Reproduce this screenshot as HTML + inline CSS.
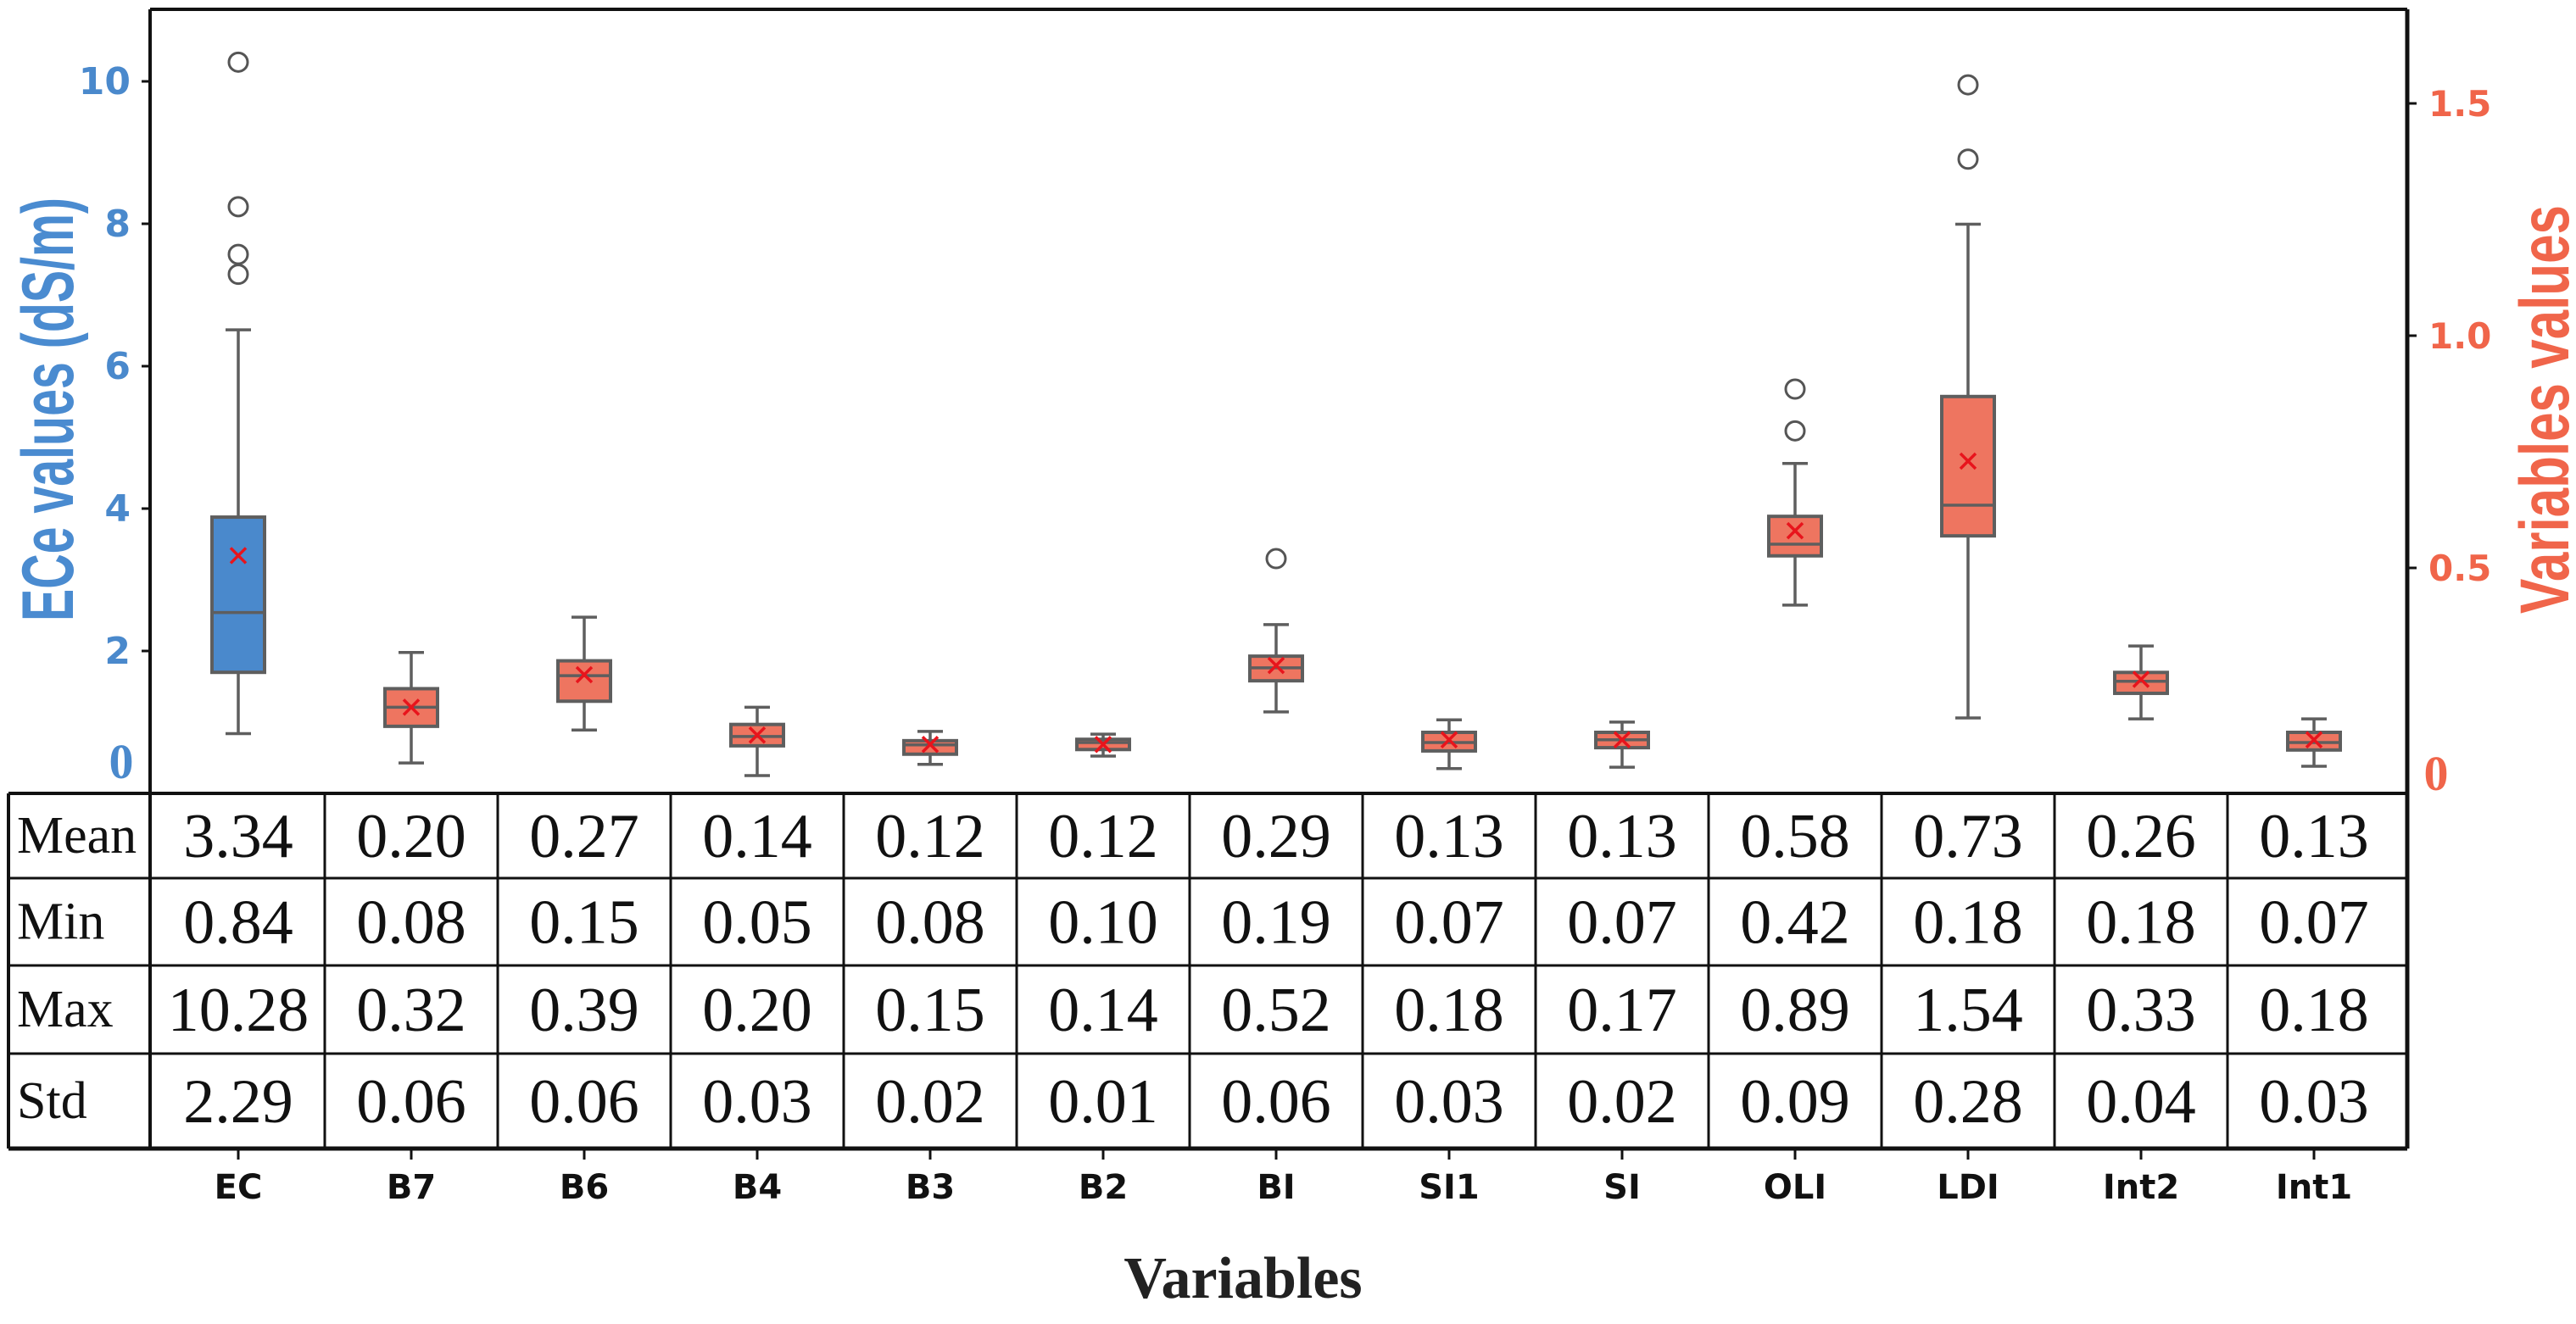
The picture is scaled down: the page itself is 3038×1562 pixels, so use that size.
<!DOCTYPE html>
<html><head><meta charset="utf-8">
<style>
html,body{margin:0;padding:0;background:#fff;}
svg{display:block;}
</style></head>
<body>
<svg id="chart" width="3038" height="1562" viewBox="0 0 3038 1562" xmlns="http://www.w3.org/2000/svg">
</svg>
<script>
const categories = ["EC","B7","B6","B4","B3","B2","BI","SI1","SI","OLI","LDI","Int2","Int1"];
const whiskerLow = [0.84,0.08,0.151,0.053,0.077,0.095,0.19,0.068,0.071,0.42,0.177,0.175,0.073];
const q1 = [1.70,0.159,0.213,0.117,0.099,0.109,0.257,0.106,0.113,0.526,0.569,0.23,0.108];
const medians = [2.54,0.20,0.268,0.137,0.119,0.124,0.285,0.124,0.13,0.551,0.635,0.256,0.124];
const q3 = [3.88,0.24,0.30,0.163,0.128,0.131,0.31,0.146,0.146,0.611,0.869,0.275,0.146];
const whiskerHigh = [6.51,0.318,0.394,0.20,0.148,0.142,0.378,0.173,0.168,0.725,1.24,0.332,0.175];
const means = [3.34,0.20,0.27,0.14,0.12,0.12,0.29,0.13,0.13,0.58,0.73,0.26,0.13];
const outliers = [[10.27,8.24,7.57,7.29],[],[],[],[],[],[0.52],[],[],[0.885,0.795],[1.54,1.38],[],[]];
const rowLabels = ["Mean","Min","Max","Std"];
const tableMean = ["3.34","0.20","0.27","0.14","0.12","0.12","0.29","0.13","0.13","0.58","0.73","0.26","0.13"];
const tableMin = ["0.84","0.08","0.15","0.05","0.08","0.10","0.19","0.07","0.07","0.42","0.18","0.18","0.07"];
const tableMax = ["10.28","0.32","0.39","0.20","0.15","0.14","0.52","0.18","0.17","0.89","1.54","0.33","0.18"];
const tableStd = ["2.29","0.06","0.06","0.03","0.02","0.01","0.06","0.03","0.02","0.09","0.28","0.04","0.03"];
const leftTicks = [2,4,6,8,10];
const leftTickLabels = ["2","4","6","8","10"];
const rightTicks = [0.5,1.0,1.5];
const rightTickLabels = ["0.5","1.0","1.5"];

const NS = "http://www.w3.org/2000/svg";
const svg = document.getElementById('chart');
const X0 = 281, STEP = 204, LEFT = 177, RIGHT = 2839, TOP = 11, PLOTB = 936, TABB = 1355;
const xCat = i => X0 + i*STEP;
const yL = v => 936 - v*84;
const yR = v => 944 - v*548;
function mk(tag, attrs, parent){
  const e = document.createElementNS(NS, tag);
  for (const k in attrs) e.setAttribute(k, attrs[k]);
  (parent||svg).appendChild(e);
  return e;
}
const BLUE = "#4a89cc", CORAL = "#ee7560", EDGE = "#5e5e5e";

let e;
e = mk('line',{x1:LEFT,y1:TOP,x2:RIGHT,y2:TOP,stroke:'#111','stroke-width':4});
 
e = mk('line',{x1:LEFT,y1:TOP,x2:LEFT,y2:TABB,stroke:'#111','stroke-width':4});
 
e = mk('line',{x1:RIGHT,y1:TOP,x2:RIGHT,y2:TABB,stroke:'#111','stroke-width':5});
 

leftTicks.forEach((v,i)=>{
  const t = mk('line',{x1:LEFT-10,y1:yL(v),x2:LEFT,y2:yL(v),stroke:'#111','stroke-width':3});
   
  const l = mk('text',{x:154,y:yL(v)+15,'text-anchor':'end','font-family':'DejaVu Sans, sans-serif','font-weight':'bold','font-size':44,fill:BLUE});
  l.textContent = leftTickLabels[i];
   
});
e = mk('text',{x:143,y:918,'text-anchor':'middle','font-family':'Liberation Serif, serif','font-weight':'bold','font-size':58,fill:BLUE});
e.textContent = "0";
 

rightTicks.forEach((v,i)=>{
  const t = mk('line',{x1:RIGHT,y1:yR(v),x2:RIGHT+11,y2:yR(v),stroke:'#111','stroke-width':3});
   
  const l = mk('text',{x:2864,y:yR(v)+15,'text-anchor':'start','font-family':'DejaVu Sans, sans-serif','font-weight':'bold','font-size':42,fill:'#f0654a'});
  l.textContent = rightTickLabels[i];
   
});
e = mk('text',{x:2873,y:932,'text-anchor':'middle','font-family':'Liberation Serif, serif','font-weight':'bold','font-size':58,fill:'#f0654a'});
e.textContent = "0";
 

e = mk('text',{x:0,y:0,transform:'translate(86,483) rotate(-90)','text-anchor':'middle','font-family':'Liberation Sans, sans-serif','font-weight':'bold','font-size':86,fill:'#4a8bd0',textLength:500,lengthAdjust:'spacingAndGlyphs'});
e.textContent = "ECe values (dS/m)";
 
e = mk('text',{x:0,y:0,transform:'translate(3029,483) rotate(-90)','text-anchor':'middle','font-family':'Liberation Sans, sans-serif','font-weight':'bold','font-size':82,fill:'#f0654a',textLength:482,lengthAdjust:'spacingAndGlyphs'});
e.textContent = "Variables values";
 

const BW = 62, CAP = 30;
categories.forEach((c,i)=>{
  const y = i===0 ? yL : yR;
  const x = xCat(i);
  const g = mk('g',{});
  
  
  mk('line',{x1:x,y1:y(whiskerHigh[i]),x2:x,y2:y(q3[i]),stroke:EDGE,'stroke-width':3.5},g);
  mk('line',{x1:x,y1:y(q1[i]),x2:x,y2:y(whiskerLow[i]),stroke:EDGE,'stroke-width':3.5},g);
  mk('line',{x1:x-CAP/2,y1:y(whiskerHigh[i]),x2:x+CAP/2,y2:y(whiskerHigh[i]),stroke:EDGE,'stroke-width':3.5},g);
  mk('line',{x1:x-CAP/2,y1:y(whiskerLow[i]),x2:x+CAP/2,y2:y(whiskerLow[i]),stroke:EDGE,'stroke-width':3.5},g);
  mk('rect',{x:x-BW/2,y:y(q3[i]),width:BW,height:Math.max(1,y(q1[i])-y(q3[i])),fill:i===0?BLUE:CORAL,stroke:EDGE,'stroke-width':4},g);
  mk('line',{x1:x-BW/2,y1:y(medians[i]),x2:x+BW/2,y2:y(medians[i]),stroke:EDGE,'stroke-width':3.5},g);
  const my = y(means[i]);
  mk('path',{d:`M${x-9},${my-9}L${x+9},${my+9}M${x-9},${my+9}L${x+9},${my-9}`,stroke:'#e8141c','stroke-width':3.5,fill:'none'},g);
  outliers[i].forEach(v=>{
    const o = mk('circle',{cx:x,cy:y(v),r:11,fill:'none',stroke:'#555','stroke-width':3});
     
  });
});

const rows = [tableMean, tableMin, tableMax, tableStd];
const rowY = [936, 1036, 1139, 1243, 1355];
const TL = 10;
const tg = mk('g',{});
 
mk('line',{x1:TL,y1:rowY[0],x2:RIGHT,y2:rowY[0],stroke:'#111','stroke-width':4},tg);
mk('line',{x1:TL,y1:rowY[4],x2:RIGHT,y2:rowY[4],stroke:'#111','stroke-width':5},tg);
for (let r=1;r<4;r++) mk('line',{x1:TL,y1:rowY[r],x2:RIGHT,y2:rowY[r],stroke:'#111','stroke-width':3},tg);
mk('line',{x1:TL,y1:rowY[0],x2:TL,y2:rowY[4],stroke:'#111','stroke-width':4},tg);
for (let i=1;i<categories.length;i++){
  const dx = xCat(i) - STEP/2;
  mk('line',{x1:dx,y1:rowY[0],x2:dx,y2:rowY[4],stroke:'#111','stroke-width':3},tg);
}
rowLabels.forEach((lab,r)=>{
  const cy = (rowY[r]+rowY[r+1])/2;
  const t = mk('text',{x:20,y:cy+20,'font-family':'Liberation Serif, serif','font-size':62,fill:'#111'});
  t.textContent = lab;
   
  rows[r].forEach((val,i)=>{
    const n = mk('text',{x:xCat(i),y:cy+25,'text-anchor':'middle','font-family':'Liberation Serif, serif','font-size':74,fill:'#111'});
    n.textContent = val;
     
  });
});

categories.forEach((c,i)=>{
  const t = mk('line',{x1:xCat(i),y1:TABB,x2:xCat(i),y2:TABB+13,stroke:'#111','stroke-width':3});
   
  const l = mk('text',{x:xCat(i),y:1414,'text-anchor':'middle','font-family':'DejaVu Sans, sans-serif','font-weight':'bold','font-size':40,fill:'#111'});
  l.textContent = c;
   
});
e = mk('text',{x:1466,y:1531,'text-anchor':'middle','font-family':'Liberation Serif, serif','font-weight':'bold','font-size':70,fill:'#222'});
e.textContent = "Variables";
 
</script>
</body></html>
